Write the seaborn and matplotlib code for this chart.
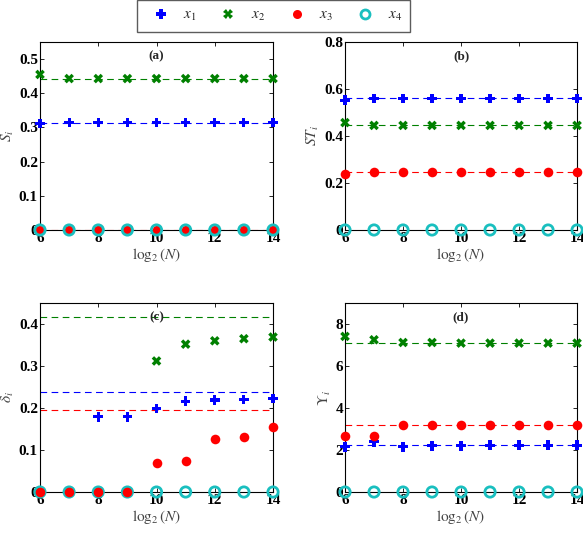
import numpy as np
import pandas as pd
import matplotlib
matplotlib.use("Agg")
import matplotlib.pyplot as plt
import seaborn as sns
from matplotlib.lines import Line2D

sns.set_theme(style="white")
plt.rcParams['font.family'] = ['Liberation Serif', 'DejaVu Serif']
plt.rcParams['mathtext.fontset'] = 'stix'

# ---- data ----
log2N = [6, 7, 8, 9, 10, 11, 12, 13, 14]
series = ["x1", "x2", "x3", "x4"]
labels = [r"$x_1$", r"$x_2$", r"$x_3$", r"$x_4$"]

# (a) first-order indices S_i
a_x1 = [0.312, 0.314, 0.314, 0.314, 0.314, 0.314, 0.314, 0.314, 0.314]
a_x2 = [0.455, 0.443, 0.443, 0.443, 0.443, 0.443, 0.443, 0.443, 0.443]
a_x3 = [0, 0, 0, 0, 0, 0, 0, 0, 0]
a_x4 = [0, 0, 0, 0, 0, 0, 0, 0, 0]
a_ref = [0.314, 0.443, 0.0, None]

# (b) total indices ST_i
b_x1 = [0.552, 0.560, 0.560, 0.560, 0.560, 0.560, 0.560, 0.560, 0.560]
b_x2 = [0.457, 0.445, 0.445, 0.445, 0.445, 0.445, 0.445, 0.445, 0.445]
b_x3 = [0.240, 0.245, 0.245, 0.245, 0.245, 0.245, 0.245, 0.245, 0.245]
b_x4 = [0, 0, 0, 0, 0, 0, 0, 0, 0]
b_ref = [0.560, 0.445, 0.245, None]

# (c) delta_i
c_x1 = [0, 0, 0.179, 0.179, 0.199, 0.216, 0.219, 0.220, 0.223]
c_x2 = [0, 0, 0, 0, 0.312, 0.352, 0.360, 0.365, 0.369]
c_x3 = [0, 0, 0, 0, 0.069, 0.075, 0.127, 0.130, 0.154]
c_x4 = [0, 0, 0, 0, 0, 0, 0, 0, 0]
c_ref = [0.239, 0.416, 0.196, None]

# (d) Upsilon_i
d_x1 = [2.15, 2.39, 2.15, 2.20, 2.20, 2.23, 2.23, 2.23, 2.23]
d_x2 = [7.41, 7.25, 7.12, 7.12, 7.09, 7.09, 7.09, 7.09, 7.09]
d_x3 = [2.68, 2.68, 3.19, 3.19, 3.19, 3.19, 3.19, 3.19, 3.19]
d_x4 = [0, 0, 0, 0, 0, 0, 0, 0, 0]
d_ref = [2.23, 7.09, 3.17, None]

panels = [
    ("(a)", r"$S_i$", [a_x1, a_x2, a_x3, a_x4], a_ref, (0, 0.55), [0, 0.1, 0.2, 0.3, 0.4, 0.5], ["0", "0.1", "0.2", "0.3", "0.4", "0.5"]),
    ("(b)", r"$ST_i$", [b_x1, b_x2, b_x3, b_x4], b_ref, (0, 0.8), [0, 0.2, 0.4, 0.6, 0.8], ["0", "0.2", "0.4", "0.6", "0.8"]),
    ("(c)", r"$\delta_i$", [c_x1, c_x2, c_x3, c_x4], c_ref, (0, 0.45), [0, 0.1, 0.2, 0.3, 0.4], ["0", "0.1", "0.2", "0.3", "0.4"]),
    ("(d)", r"$\Upsilon_i$", [d_x1, d_x2, d_x3, d_x4], d_ref, (0, 9), [0, 2, 4, 6, 8], ["0", "2", "4", "6", "8"]),
]
xticks = [6, 8, 10, 12, 14]

colors = {"x1": "#0000ff", "x2": "#008000", "x3": "#ff0000", "x4": "#19bfbf"}
markers = {"x1": "P", "x2": "X", "x3": "o", "x4": "o"}

positions = [
    [0.0686, 0.5685, 0.3997, 0.3527],
    [0.5918, 0.5685, 0.3980, 0.3527],
    [0.0686, 0.0769, 0.3997, 0.3546],
    [0.5918, 0.0769, 0.3980, 0.3546],
]

fig = plt.figure(figsize=(5.83, 5.33), dpi=100)

for pos, (tag, ylab, vals, refs, ylim, yt, ytl) in zip(positions, panels):
    ax = fig.add_axes(pos)
    # reference dashed lines
    for s, r in zip(series, refs):
        if r is None:
            continue
        ax.axhline(r, color=colors[s], ls=(0, (6, 4)), lw=0.8,
                   zorder=3 if r == 0 else 1)
    red_top = tag == "(c)"
    # data points
    for s in series:
        v = vals[series.index(s)]
        df = pd.DataFrame({"N": log2N, "v": v})
        if s == "x4":
            sns.scatterplot(data=df, x="N", y="v", ax=ax, marker="o", s=55,
                            facecolor="none", edgecolor=colors[s], linewidth=2.0,
                            zorder=5, clip_on=False, legend=False)
        elif s == "x3":
            sns.scatterplot(data=df, x="N", y="v", ax=ax, marker="o", s=48,
                            color=colors[s], edgecolor=colors[s], linewidth=0,
                            zorder=6 if red_top else 4, clip_on=False, legend=False)
        else:
            sns.scatterplot(data=df, x="N", y="v", ax=ax, marker=markers[s], s=48,
                            color=colors[s], edgecolor="none", linewidth=0,
                            zorder=4, clip_on=False, legend=False)
    ax.set_xlim(6, 14)
    ax.set_ylim(*ylim)
    ax.set_xticks(xticks)
    ax.set_xticklabels([str(t) for t in xticks], fontweight="bold", fontsize=11)
    ax.set_yticks(yt)
    ax.set_yticklabels(ytl, fontweight="bold", fontsize=11)
    ax.tick_params(direction="in", length=3, width=0.6, top=True, right=True,
                   bottom=True, left=True, pad=1.5, colors="black", labelcolor="black")
    for sp in ax.spines.values():
        sp.set_color("black")
        sp.set_linewidth(0.8)
    ax.set_xlabel(r"$\log_2(N)$", fontsize=11, color="#444444", labelpad=1)
    ax.set_ylabel(ylab, fontsize=11, color="#444444", labelpad=2)
    ax.text(0.5, 0.955, tag, transform=ax.transAxes, ha="center", va="top",
            fontweight="bold", fontsize=9.5)
    ax.grid(False)

handles = [
    Line2D([], [], ls="none", marker="P", color=colors["x1"], markersize=6.5, markeredgewidth=0),
    Line2D([], [], ls="none", marker="X", color=colors["x2"], markersize=6.5, markeredgewidth=0),
    Line2D([], [], ls="none", marker="o", color=colors["x3"], markersize=6.5, markeredgewidth=0),
    Line2D([], [], ls="none", marker="o", markerfacecolor="none", markeredgecolor=colors["x4"],
           markersize=6.5, markeredgewidth=2),
]
leg = fig.legend(handles, labels, loc="center", bbox_to_anchor=(273.5 / 583, 1 - 16 / 533),
                 ncol=4, frameon=True, fancybox=False, edgecolor="#333333",
                 fontsize=11, handlelength=2.0, handletextpad=0.5, columnspacing=1.05,
                 borderpad=0.55)
leg.get_frame().set_linewidth(1.0)

fig.savefig("out.png", dpi=100)
